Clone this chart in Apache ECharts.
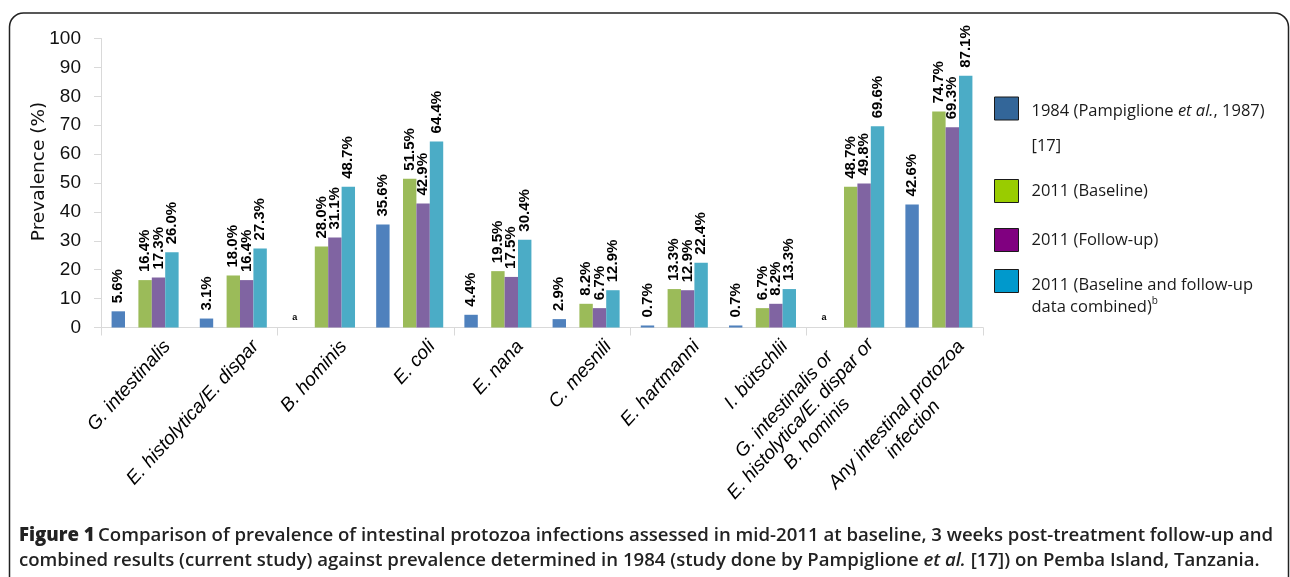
<!DOCTYPE html>
<html>
<head>
<meta charset="utf-8">
<script src="https://cdn.jsdelivr.net/npm/echarts@6/dist/echarts.min.js"></script>
<style>
html,body{margin:0;padding:0;background:#fff;}
#c{width:1290px;height:577px;}
</style>
</head>
<body>
<div id="c"></div>
<script>
// ---- data ----
const categories = [
  'G. intestinalis',
  'E. histolytica/E. dispar',
  'B. hominis',
  'E. coli',
  'E. nana',
  'C. mesnili',
  'E. hartmanni',
  'I. bütschlii',
  'G. intestinalis or\nE. histolytica/E. dispar or\nB. hominis',
  'Any intestinal protozoa\ninfection'
];
const seriesNames = [
  '1984 (Pampiglione et al., 1987) [17]',
  '2011 (Baseline)',
  '2011 (Follow-up)',
  '2011 (Baseline and follow-up data combined)b'
];
const v1984     = [5.6, 3.1, null, 35.6, 4.4, 2.9, 0.7, 0.7, null, 42.6];
const vBaseline = [16.4, 18.0, 28.0, 51.5, 19.5, 8.2, 13.3, 6.7, 48.7, 74.7];
const vFollowup = [17.3, 16.4, 31.1, 42.9, 17.5, 6.7, 12.9, 8.2, 49.8, 69.3];
const vCombined = [26.0, 27.3, 48.7, 64.4, 30.4, 12.9, 22.4, 13.3, 69.6, 87.1];
const yMin = 0, yMax = 100, yStep = 10;
const missingMark = 'a';

// ---- styles ----
const barColors = ['#4f81bd', '#9bbb59', '#8064a2', '#4bacc6'];
const legendColors = ['#336699', '#99cc00', '#800080', '#0099cc'];
const LEG_FONT = 'Open Sans';
const LEG_SIZE = 16.5;

const chart = echarts.init(document.getElementById('c'), null, {renderer: 'canvas'});

const barLabel = {
  show: true,
  position: 'top',
  distance: 8,
  rotate: 90,
  align: 'left',
  verticalAlign: 'middle',
  fontFamily: 'Liberation Sans',
  fontWeight: 'bold',
  fontSize: 15,
  color: '#000',
  formatter: p => (typeof p.value === 'number' ? p.value.toFixed(1) + '%' : '')
};

function buildData(arr) {
  return arr.map(v => v === null ? {
    value: 0,
    label: {
      show: true, formatter: missingMark, rotate: 0, align: 'center',
      verticalAlign: 'bottom', distance: 5, fontSize: 9, fontWeight: 'bold',
      fontFamily: 'Liberation Sans', color: '#000'
    }
  } : v);
}

function mkBar(name, data, color) {
  return {
    name: name, type: 'bar', xAxisIndex: 0, yAxisIndex: 0,
    data: buildData(data),
    itemStyle: {color: color},
    barGap: '0%', barCategoryGap: '24%',
    label: barLabel,
    emphasis: {disabled: true}
  };
}

const catLabelRich = {
  c: {fontFamily: 'Liberation Sans', fontStyle: 'italic', fontSize: 19, lineHeight: 22, color: '#000', align: 'center'}
};

// label axis data: the 3-line label sits one line higher, as in the reference
const labelAxisData = categories.map(c => {
  const n = c.split('\n').length;
  return n >= 3 ? {value: c, textStyle: {verticalAlign: 'middle', padding: [16, 0, 0, 0]}} : c;
});

const legBase = {
  orient: 'vertical', left: 994, padding: 0, itemWidth: 24, itemHeight: 23,
  icon: 'rect', selectedMode: false,
  itemStyle: {borderColor: '#1a1a1a', borderWidth: 1}
};
function legText(extra) {
  return Object.assign({
    fontFamily: LEG_FONT, fontSize: LEG_SIZE, color: '#1a1a1a'
  }, extra);
}

const option = {
  animation: false,
  backgroundColor: '#fff',
  grid: [
    {left: 101, top: 38.5, width: 882, height: 289, containLabel: false},
    {left: 115, top: 38.5, width: 882, height: 289, containLabel: false}
  ],
  xAxis: [
    {
      type: 'category', gridIndex: 0, data: categories,
      axisLine: {show: true, lineStyle: {color: '#d9d9d9', width: 1}},
      axisTick: {show: true, length: 8, lineStyle: {color: '#d9d9d9'}},
      axisLabel: {show: false}
    },
    {
      type: 'category', gridIndex: 1, data: labelAxisData,
      axisLine: {show: false}, axisTick: {show: false},
      axisLabel: {
        show: true, interval: 0, rotate: 48, margin: 8.5,
        align: 'right', verticalAlign: 'top',
        formatter: v => v.split('\n').map(l => '{c|' + l + '}').join('\n'),
        rich: catLabelRich
      }
    }
  ],
  yAxis: [
    {
      type: 'value', gridIndex: 0, min: yMin, max: yMax, interval: yStep,
      name: 'Prevalence (%)', nameLocation: 'middle', nameGap: 52, nameRotate: 90,
      nameMoveOverlap: false,
      nameTextStyle: {fontFamily: 'DejaVu Sans', fontSize: 18.5, color: '#111', padding: [0, 0, 0, 23]},
      axisLine: {show: true, lineStyle: {color: '#d9d9d9', width: 1}},
      axisTick: {show: true, length: 7, lineStyle: {color: '#d9d9d9'}},
      splitLine: {show: false},
      axisLabel: {fontFamily: 'Liberation Sans', fontSize: 19, color: '#111', margin: 20}
    },
    {
      type: 'value', gridIndex: 1, min: yMin, max: yMax, interval: yStep, show: false
    }
  ],
  legend: [
    Object.assign({}, legBase, {
      top: 53,
      data: [{name: seriesNames[0], itemStyle: {color: legendColors[0]}}],
      formatter: () => '1984 (Pampiglione {i|et al.}, 1987)\n[17]',
      textStyle: legText({lineHeight: 35, padding: [41, 0, 0, 8],
        rich: {i: {fontFamily: LEG_FONT, fontSize: LEG_SIZE, fontStyle: 'italic', color: '#1a1a1a', lineHeight: 35}}})
    }),
    Object.assign({}, legBase, {
      top: 176,
      data: [{name: seriesNames[1], itemStyle: {color: legendColors[1]}}],
      formatter: () => '2011 (Baseline)',
      textStyle: legText({lineHeight: 22, padding: [8, 0, 0, 8]})
    }),
    Object.assign({}, legBase, {
      top: 223,
      data: [{name: seriesNames[2], itemStyle: {color: legendColors[2]}}],
      formatter: () => '2011 (Follow-up)',
      textStyle: legText({lineHeight: 22, padding: [12, 0, 0, 8]})
    }),
    Object.assign({}, legBase, {
      top: 244,
      data: [{name: seriesNames[3], itemStyle: {color: legendColors[3]}}],
      formatter: () => '2011 (Baseline and follow-up\ndata combined){sup|b}',
      textStyle: legText({lineHeight: 22, padding: [30, 0, 0, 8],
        rich: {sup: {fontFamily: LEG_FONT, fontSize: 10, color: '#1a1a1a', verticalAlign: 'top', lineHeight: 14}}})
    })
  ],
  series: [
    mkBar(seriesNames[0], v1984, barColors[0]),
    {name: 'spacer', type: 'bar', xAxisIndex: 0, yAxisIndex: 0, data: categories.map(() => null),
     barGap: '0%', barCategoryGap: '24%', silent: true},
    mkBar(seriesNames[1], vBaseline, barColors[1]),
    mkBar(seriesNames[2], vFollowup, barColors[2]),
    mkBar(seriesNames[3], vCombined, barColors[3])
  ],
  graphic: [
    {
      type: 'rect', silent: true, z: 0,
      shape: {x: 9.5, y: 13, width: 1279, height: 620, r: 14},
      style: {fill: 'none', stroke: '#222', lineWidth: 1.5}
    },
    {
      type: 'text', left: 19, top: 526, silent: true,
      style: {
        text: '{b|Figure 1} {s|Comparison of prevalence of intestinal protozoa infections assessed in mid-2011 at baseline, 3 weeks post-treatment follow-up and}\n' +
              '{s|combined results (current study) against prevalence determined in 1984 (study done by Pampiglione }{si|et al.}{s| [17]) on Pemba Island, Tanzania.}',
        rich: {
          b: {fontFamily: 'Open Sans', fontWeight: 800, fontSize: 18.6, lineHeight: 25, fill: '#222'},
          s: {fontFamily: 'Open Sans', fontWeight: 600, fontSize: 18.6, lineHeight: 25, fill: '#222'},
          si: {fontFamily: 'Open Sans', fontWeight: 600, fontStyle: 'italic', fontSize: 18.6, lineHeight: 25, fill: '#222'}
        }
      }
    }
  ]
};
chart.setOption(option);
</script>
</body>
</html>
